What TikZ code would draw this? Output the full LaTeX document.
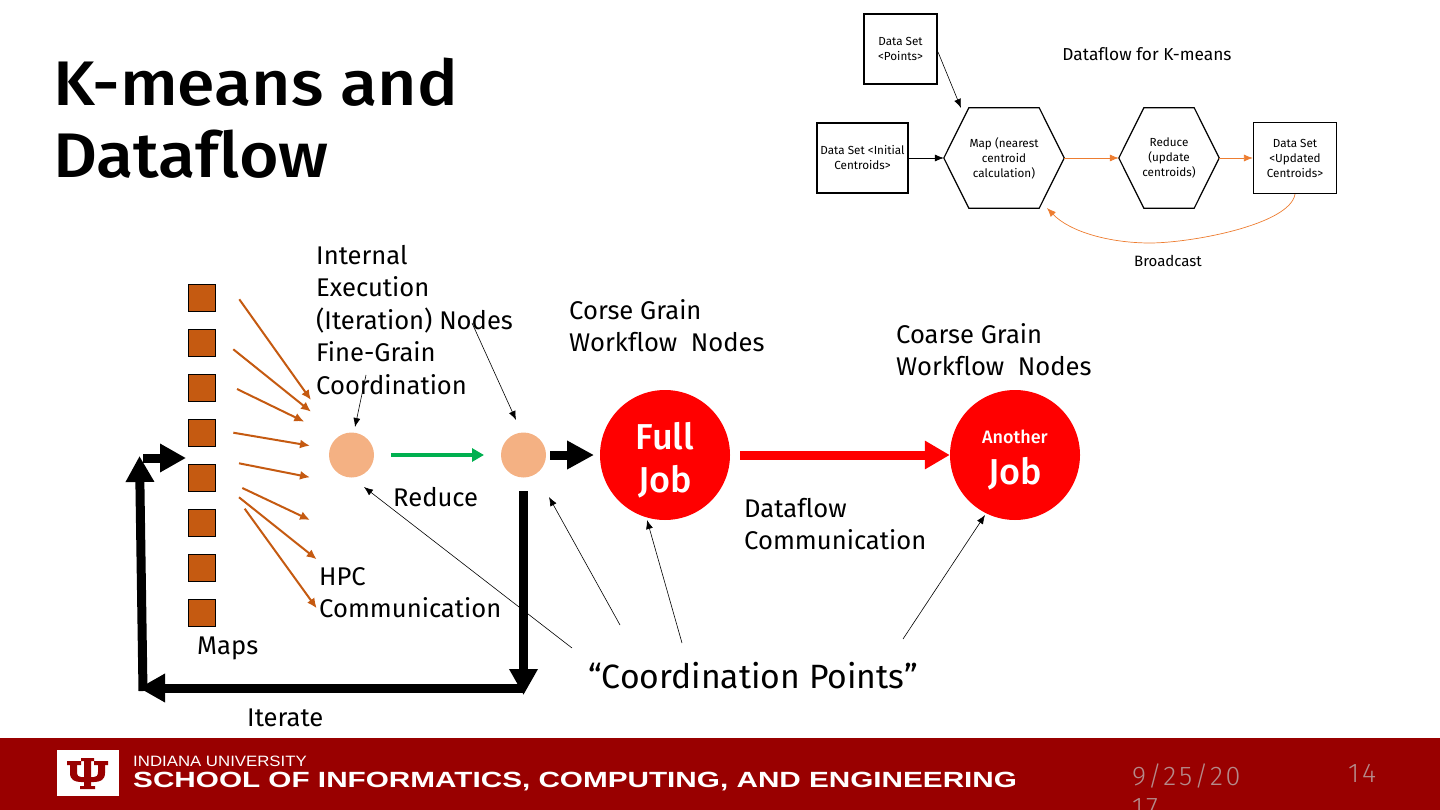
\documentclass[tikz,border=0pt]{standalone}
\usepackage{fontspec}
\usetikzlibrary{arrows.meta}
\setmainfont[Ligatures=NoCommon]{Fira Sans}
\newfontfamily\titlefont[FakeStretch=1.08,Ligatures=NoCommon]{Fira Sans Medium}
\newfontfamily\jobfont[Ligatures=NoCommon]{Fira Sans Medium}
\newfontfamily\footfont[FakeStretch=1.35]{Liberation Sans}
\newfontfamily\iufont[FakeStretch=1.12]{Liberation Sans}
\newfontfamily\datefont[LetterSpace=10,Ligatures=NoCommon]{Fira Sans Light}
\definecolor{iured}{HTML}{990000}
\definecolor{mapfill}{HTML}{C55A11}
\definecolor{peach}{HTML}{F4B183}
\definecolor{flow}{HTML}{ED7D31}
\definecolor{reducegreen}{HTML}{00B050}
\definecolor{dategray}{HTML}{B58A8A}
\tikzset{
  label/.style={anchor=north west,inner sep=0pt,align=left,font=\fontsize{25.6}{32.5}\selectfont},
  small/.style={inner sep=0pt,align=center,font=\fontsize{11.7}{15}\selectfont},
  setbox/.style={draw,line width=1.2pt,small},
  hexbox/.style={small,minimum height=100pt},
  thin arrow/.style={line width=.6pt,-{Latex[length=9pt,width=7pt]}},
  flow arrow/.style={flow,line width=.7pt,-{Latex[length=9pt,width=7pt]}},
  hpc arrow/.style={mapfill,line width=2pt,-{Latex[length=10pt,width=9pt]}},
  heavy arrow/.style={line width=9pt,-{Triangle[length=26pt,width=27pt]}},
  job/.style={circle,fill=red,minimum size=130pt,inner sep=0pt,text=white,align=center,font=\jobfont\fontsize{36}{43}\selectfont},
}
\begin{document}
\begin{tikzpicture}[x=1pt,y=-1pt]
\path[use as bounding box] (0,0) rectangle (1440,810);
\node[anchor=north west,inner sep=0pt,align=left,font=\titlefont\fontsize{63}{72}\selectfont] (title) at (53,58) {K-means and\\Dataflow};
% small dataflow
\node[setbox,minimum width=73pt,minimum height=70pt] (points) at (900.5,49) {Data Set\\<Points>};
\node[setbox,minimum width=91pt,minimum height=70pt] (initial) at (862.5,158) {Data Set <Initial\\Centroids>};
\node[hexbox,minimum width=120pt] (mapper) at (1004,158) {Map (nearest\\centroid\\calculation)};
\node[hexbox,minimum width=100pt] (reducer) at (1169,158) {Reduce\\(update\\centroids)};
\foreach \hex in {mapper,reducer}
  \draw[line width=1.2pt] (\hex.west) -- ([xshift=25pt]\hex.north west) -- ([xshift=-25pt]\hex.north east) -- (\hex.east) -- ([xshift=-25pt]\hex.south east) -- ([xshift=25pt]\hex.south west) -- cycle;
\node[setbox,minimum width=83pt,minimum height=71pt] (updated) at (1295,158) {Data Set\\<Updated\\Centroids>};
\node[inner sep=0pt,font=\fontsize{17.3}{20}\selectfont] (flowtitle) at (1147,54) {Dataflow for K-means};
\node[small,font=\fontsize{15}{18}\selectfont] (broadcast) at (1168,261) {Broadcast};
\coordinate (pointsout) at (938,52);
\coordinate (mapin) at (961,108);
\coordinate (mapback) at (1047,208);
\draw[thin arrow] (pointsout) -- (mapin);
\draw[thin arrow] (initial) -- (mapper);
\draw[flow arrow] (mapper) -- (reducer);
\draw[flow arrow] (reducer) -- (updated);
\draw[flow arrow] (updated.south) .. controls (1290,225) and (1190,243) .. (1150,243) .. controls (1110,243) and (1070,232) .. (mapback);
% maps
\foreach \y [count=\i] in {298,343,388,433,478,523,568,613}
  \node[draw,fill=mapfill,line width=1pt,minimum size=27pt,inner sep=0pt] (map\i) at (202,\y) {};
\foreach \xa/\ya/\xb/\yb [count=\i] in {239.3/299.3/311/400,233.3/349.3/311/411.7,237/389/304.3/421.7,233.3/432.7/310/445.7,239/463.3/310/477.3,242.3/488/310/520,239/497.3/316.7/559.3,244.7/508.7/316.7/608.3}
{
  \coordinate (hpcfrom\i) at (\xa,\ya);
  \coordinate (hpcto\i) at (\xb,\yb);
  \draw[hpc arrow] (hpcfrom\i) -- (hpcto\i);
}
\node[circle,fill=peach,minimum size=45pt,inner sep=0pt] (fine1) at (351.5,455) {};
\node[circle,fill=peach,minimum size=45pt,inner sep=0pt] (fine2) at (523.5,455) {};
\node[job] (fulljob) at (665,455) {\rule{0pt}{37pt}Full\\Job};
\node[job] (anotherjob) at (1015,455) {{\fontsize{18}{24}\selectfont\rule{0pt}{24pt}Another}\\[-2pt]Job};
\node[label] (internal) at (316,245) {Internal\\Execution\\(Iteration) Nodes\\Fine-Grain\\Coordination};
\node[label] (corse) at (569,299) {Corse Grain\\Workflow\ \ Nodes};
\node[label] (coarse) at (896,323) {Coarse Grain\\Workflow\ \ Nodes};
\node[label] (reducetext) at (393,487) {Reduce};
\node[label] (dataflowtext) at (744,498) {Dataflow\\Communication};
\node[label] (hpctext) at (319,567) {HPC\\Communication};
\node[label] (maps) at (197,637) {Maps};
\node[label] (iterate) at (247,709) {Iterate};
\node[label,font=\fontsize{33.7}{40}\selectfont] (cptext) at (588,662) {“Coordination Points”};
% arrows
\coordinate (greenfrom) at (391,455);
\coordinate (greento) at (484,455);
\draw[reducegreen,line width=4pt,-{Triangle[length=12pt,width=13pt]}] (greenfrom) -- (greento);
\coordinate (redfrom) at (740,455);
\draw[red,line width=9pt,-{Triangle[length=25pt,width=27pt]}] (redfrom) -- (anotherjob.west);
\coordinate (jobfrom) at (550,455);
\coordinate (jobto) at (594,455);
\draw[line width=9pt,-{Triangle[length=27pt,width=27pt]}] (jobfrom) -- (jobto);
\coordinate (downfrom) at (523.5,491);
\coordinate (corner) at (523.5,695);
\coordinate (iterfrom) at (523.5,688);
\coordinate (iterto) at (139,688);
\coordinate (upfrom) at (143,691);
\coordinate (upto) at (139.5,456);
\coordinate (backfrom) at (143,458);
\coordinate (backto) at (186,458);
\draw[heavy arrow] (downfrom) -- (corner);
\draw[heavy arrow] (iterfrom) -- (iterto);
\draw[heavy arrow] (upfrom) -- (upto);
\draw[heavy arrow] (backfrom) -- (backto);
\coordinate (intfrom) at (366,375);
\coordinate (intto) at (355,427);
\coordinate (nodefrom) at (472,323);
\coordinate (nodeto) at (516,420);
\draw[thin arrow] (intfrom) -- (intto);
\draw[thin arrow] (nodefrom) -- (nodeto);
\coordinate (cpa) at (572,648);
\coordinate (cpb) at (620,625);
\coordinate (cpc) at (682,643);
\coordinate (cpd) at (903,639);
\coordinate (cpato) at (364,487);
\coordinate (cpbto) at (549,497);
\coordinate (cpcto) at (647,520);
\coordinate (cpdto) at (985,515);
\draw[thin arrow] (cpa) -- (cpato);
\draw[thin arrow] (cpb) -- (cpbto);
\draw[thin arrow] (cpc) -- (cpcto);
\draw[thin arrow] (cpd) -- (cpdto);
% footer
\fill[iured] (0,738) rectangle (1440,810);
\fill[white] (57,750) rectangle (118.5,796);
\fill[iured] (70,763) -- (70,773) .. controls (70,780) and (75,782) .. (81,782) -- (94,782) .. controls (100,782) and (105,780) .. (105,773) -- (105,763) -- (98,763) -- (98,772) .. controls (98,776) and (96,777) .. (94,777) -- (81,777) .. controls (79,777) and (77,776) .. (77,772) -- (77,763) -- cycle;
\fill[iured] (67,761) rectangle (81,765) (94,761) rectangle (108,765) (84,758) rectangle (91,787) (81,758) rectangle (94,761) (80,786) rectangle (95,789);
\node[anchor=west,inner sep=0pt,text=white,font=\iufont\fontsize{15}{16}\selectfont] (iu) at (133,761) {INDIANA UNIVERSITY};
\node[anchor=west,inner sep=0pt,text=white,font=\footfont\bfseries\fontsize{22}{24}\selectfont] (school) at (133,781.5) {SCHOOL OF INFORMATICS, COMPUTING, AND ENGINEERING};
\node[anchor=north west,inner sep=0pt,text=dategray,align=left,font=\datefont\fontsize{27}{31}\selectfont] (date) at (1132,764) {9/25/20\\17};
\node[anchor=north west,inner sep=0pt,text=dategray,font=\datefont\fontsize{27}{31}\selectfont] (page) at (1348,764) {14};
\end{tikzpicture}
\end{document}
